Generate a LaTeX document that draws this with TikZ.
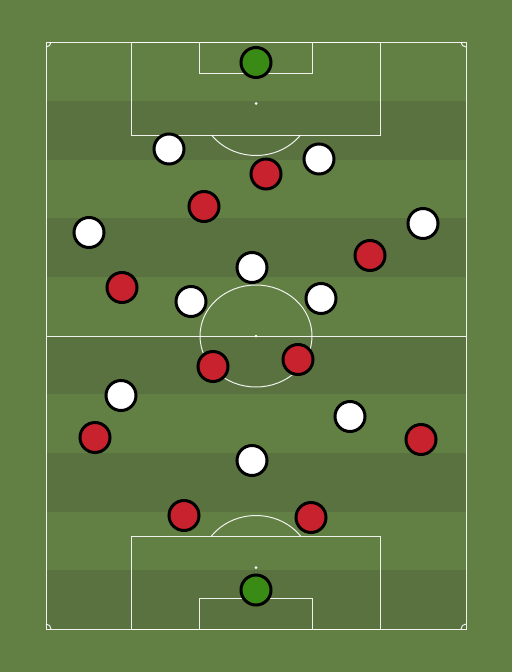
\documentclass[tikz,border=0pt]{standalone}
\usetikzlibrary{shadows}
\definecolor{grasslight}{HTML}{628043}
\definecolor{grassdark}{HTML}{597240}
\definecolor{kitred}{HTML}{C8222E}
\definecolor{kitgreen}{HTML}{3A8A16}

\begin{document}
\begin{tikzpicture}[x=1pt,y=-1pt,
			pitchline/.style={draw=white,draw opacity=0.9,line width=1pt},
			player/.style={circle,draw=black,line width=3pt,minimum size=30pt,inner sep=0pt,
				drop shadow={shadow xshift=0.6pt,shadow yshift=-0.8pt,opacity=0.35}},
			home/.style={player,fill=white},
			away/.style={player,fill=kitred},
			keeper/.style={player,fill=kitgreen}]
			% grass and stripes
			\fill[grasslight] (0,0) rectangle (512,672);
			\useasboundingbox (0,0) rectangle (512,672);
			\fill[grassdark] (46,101) rectangle (466,160);
			\fill[grassdark] (46,218) rectangle (466,277);
			\fill[grassdark] (46,336) rectangle (466,394);
			\fill[grassdark] (46,453) rectangle (466,512);
			\fill[grassdark] (46,570) rectangle (466,629);
			% pitch markings
			\draw[pitchline] (46,42) rectangle (466,629);
			\draw[pitchline] (46,336) -- (466,336);
			\draw[pitchline] (256,336) ellipse [x radius=56, y radius=51];
			\fill[white] (256,336) circle [radius=1.5];
			\draw[pitchline] (131,42) rectangle (380,135);
			\draw[pitchline] (199,42) rectangle (312,73);
			\fill[white] (256,103.5) circle [radius=1.5];
			\draw[pitchline] (131,536) rectangle (380,629);
			\draw[pitchline] (199,598) rectangle (312,629);
			\fill[white] (256,567.5) circle [radius=1.5];
			\begin{scope}
				\clip (46,135.5) rectangle (466,200);
				\draw[pitchline] (256,103.5) ellipse [x radius=56, y radius=52];
			\end{scope}
			\begin{scope}
				\clip (46,470) rectangle (466,535.5);
				\draw[pitchline] (256,567.5) ellipse [x radius=56, y radius=52];
			\end{scope}
			% corners
			\draw[pitchline] (51,42) arc [start angle=0, end angle=90, radius=5];
			\draw[pitchline] (466,47) arc [start angle=90, end angle=180, radius=5];
			\draw[pitchline] (46,624) arc [start angle=-90, end angle=0, radius=5];
			\draw[pitchline] (461,629) arc [start angle=180, end angle=270, radius=5];

			% keepers
			\node[keeper] (gktop) at (256,62.5) {};
			\node[keeper] (gkbottom) at (256,590) {};
			% white side
			\node[home] (w1) at (169,149) {};
			\node[home] (w2) at (319,159) {};
			\node[home] (w3) at (89,232.5) {};
			\node[home] (w4) at (423,223.5) {};
			\node[home] (w5) at (252,267.5) {};
			\node[home] (w6) at (191,301.5) {};
			\node[home] (w7) at (321,298.5) {};
			\node[home] (w8) at (121,395.5) {};
			\node[home] (w9) at (350,416.5) {};
			\node[home] (w10) at (252,460.5) {};
			% red side
			\node[away] (r1) at (266,174) {};
			\node[away] (r2) at (204,206.5) {};
			\node[away] (r3) at (370,255.5) {};
			\node[away] (r4) at (122,287.5) {};
			\node[away] (r5) at (213,366.5) {};
			\node[away] (r6) at (298,359.5) {};
			\node[away] (r7) at (95,437.5) {};
			\node[away] (r8) at (421,439.5) {};
			\node[away] (r9) at (184,515.5) {};
			\node[away] (r10) at (311,517.5) {};
			\end{tikzpicture}
\end{document}
